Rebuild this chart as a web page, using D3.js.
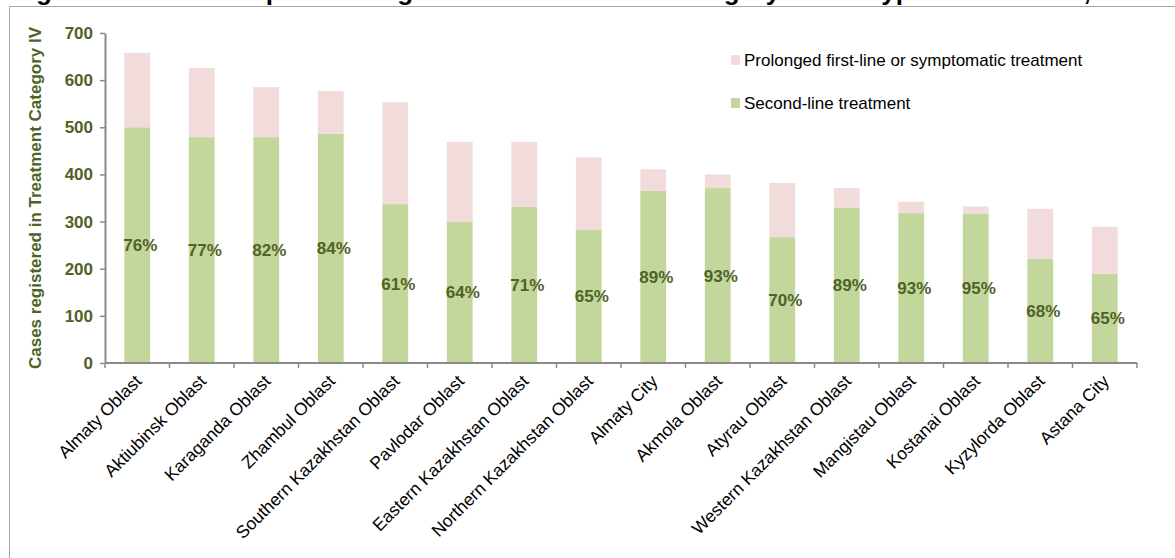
<!DOCTYPE html>
<html>
<head>
<meta charset="utf-8">
<script src="https://cdn.jsdelivr.net/npm/d3@7"></script>
<style>
  html, body { margin: 0; padding: 0; background: #fff; }
  svg { display: block; font-family: Arial, "Liberation Sans", sans-serif; }
</style>
</head>
<body>
<svg id="chart" width="1175" height="558"></svg>
<script>
// Regions, ordered by total cases
const regions = [
  "Almaty Oblast", "Aktiubinsk Oblast", "Karaganda Oblast", "Zhambul Oblast",
  "Southern Kazakhstan Oblast", "Pavlodar Oblast", "Eastern Kazakhstan Oblast",
  "Northern Kazakhstan Oblast", "Almaty City", "Akmola Oblast", "Atyrau Oblast",
  "Western Kazakhstan Oblast", "Mangistau Oblast", "Kostanai Oblast",
  "Kyzylorda Oblast", "Astana City"
];
// Cases on second-line treatment
const secondLine = [500, 479, 479, 486, 337, 299, 331, 282, 365, 371, 267, 329, 318, 316, 221, 189];
// Cases on prolonged first-line or symptomatic treatment
const prolonged = [158, 147, 106, 91, 216, 170, 138, 154, 46, 29, 115, 42, 24, 16, 106, 100];

const yTicks = [0, 100, 200, 300, 400, 500, 600, 700];
const seriesNames = ["Prolonged first-line or symptomatic treatment", "Second-line treatment"];
const titleText = "Figure 6. Number of patients registered in Treatment Category IV and type of treatment, 2010";
const yTitle = "Cases registered in Treatment Category IV";

const GREEN = "#c3d69b", PINK = "#f2dcdb", OLIVE = "#4f6228", AXIS = "#8a8a8a";

const svg = d3.select("#chart");

// Title (sits above the top edge of the frame)
svg.append("text")
  .attr("x", 13).attr("y", 0)
  .attr("font-size", 26).attr("font-weight", "bold").attr("fill", "#000")
  .text(titleText);

// Frame
svg.append("path")
  .attr("d", "M9.5,558 V6.5 H1175")
  .attr("fill", "none").attr("stroke", "#a6a6a6").attr("stroke-width", 1);

const x = d3.scaleBand().domain(regions).range([105, 1137])
  .paddingInner(0.6).paddingOuter(0.3);
const y = d3.scaleLinear().domain([0, 700]).range([363, 33]);

const rows = regions.map((r, i) => ({
  region: r,
  second: secondLine[i],
  prolonged: prolonged[i],
  total: secondLine[i] + prolonged[i]
}));

const stack = d3.stack().keys(["second", "prolonged"])(rows);
const colors = { second: GREEN, prolonged: PINK };

svg.append("g").selectAll("g").data(stack).join("g")
  .attr("fill", d => colors[d.key])
  .selectAll("rect").data(d => d).join("rect")
  .attr("x", d => x(d.data.region))
  .attr("width", x.bandwidth())
  .attr("y", d => y(d[1]))
  .attr("height", d => y(d[0]) - y(d[1]));

// Share of second-line treatment, centred in the green segment
svg.append("g").selectAll("text").data(rows).join("text")
  .attr("x", d => x(d.region) + x.bandwidth() / 2 + 3)
  .attr("y", d => y(d.second / 2))
  .attr("dy", "0.35em")
  .attr("text-anchor", "middle")
  .attr("font-size", 17).attr("font-weight", "bold").attr("fill", OLIVE)
  .text(d => Math.round(d.second / d.total * 100) + "%");

// Y axis
const yAxis = svg.append("g").attr("transform", "translate(105,0)")
  .call(d3.axisLeft(y).tickValues(yTicks).tickSize(5).tickPadding(7).tickSizeOuter(0));
yAxis.select(".domain").attr("stroke", AXIS).attr("stroke-width", 2);
yAxis.selectAll(".tick line").attr("stroke", AXIS).attr("stroke-width", 1.5);
yAxis.selectAll(".tick text")
  .attr("font-size", 17).attr("font-weight", "bold").attr("fill", OLIVE)
  .attr("font-family", "Arial, 'Liberation Sans', sans-serif");

// X axis: baseline with ticks between categories
const xAxis = svg.append("g");
xAxis.append("line")
  .attr("x1", x.range()[0]).attr("x2", x.range()[1])
  .attr("y1", y(0)).attr("y2", y(0))
  .attr("stroke", AXIS).attr("stroke-width", 2);
const gap = (x.step() - x.bandwidth()) / 2;
const boundaries = regions.map(r => x(r) - gap).concat([x(regions[regions.length - 1]) + x.bandwidth() + gap]);
xAxis.selectAll("line.tick").data(boundaries).join("line")
  .attr("class", "tick")
  .attr("x1", d => d).attr("x2", d => d)
  .attr("y1", y(0)).attr("y2", y(0) + 5)
  .attr("stroke", AXIS).attr("stroke-width", 1.5);

xAxis.selectAll("text").data(regions).join("text")
  .attr("transform", d => `translate(${x(d) + x.bandwidth() / 2 + 1},${y(0) + 15}) rotate(-45)`)
  .attr("text-anchor", "end")
  .attr("dy", "0.35em")
  .attr("font-size", 17.5).attr("fill", "#000")
  .text(d => d);

// Y axis title
svg.append("text")
  .attr("transform", "translate(35,198) rotate(-90)")
  .attr("text-anchor", "middle").attr("dy", "0.35em")
  .attr("font-size", 17).attr("font-weight", "bold").attr("fill", OLIVE)
  .text(yTitle);

// Legend
const legend = svg.append("g");
const legendItems = [
  { name: seriesNames[0], color: PINK, cy: 60 },
  { name: seriesNames[1], color: GREEN, cy: 103 }
];
legend.selectAll("rect").data(legendItems).join("rect")
  .attr("x", 731).attr("y", d => d.cy - 5).attr("width", 9).attr("height", 10)
  .attr("fill", d => d.color);
legend.selectAll("text").data(legendItems).join("text")
  .attr("x", 744).attr("y", d => d.cy).attr("dy", "0.35em")
  .attr("font-size", 17).attr("fill", "#000")
  .text(d => d.name);
</script>
</body>
</html>
